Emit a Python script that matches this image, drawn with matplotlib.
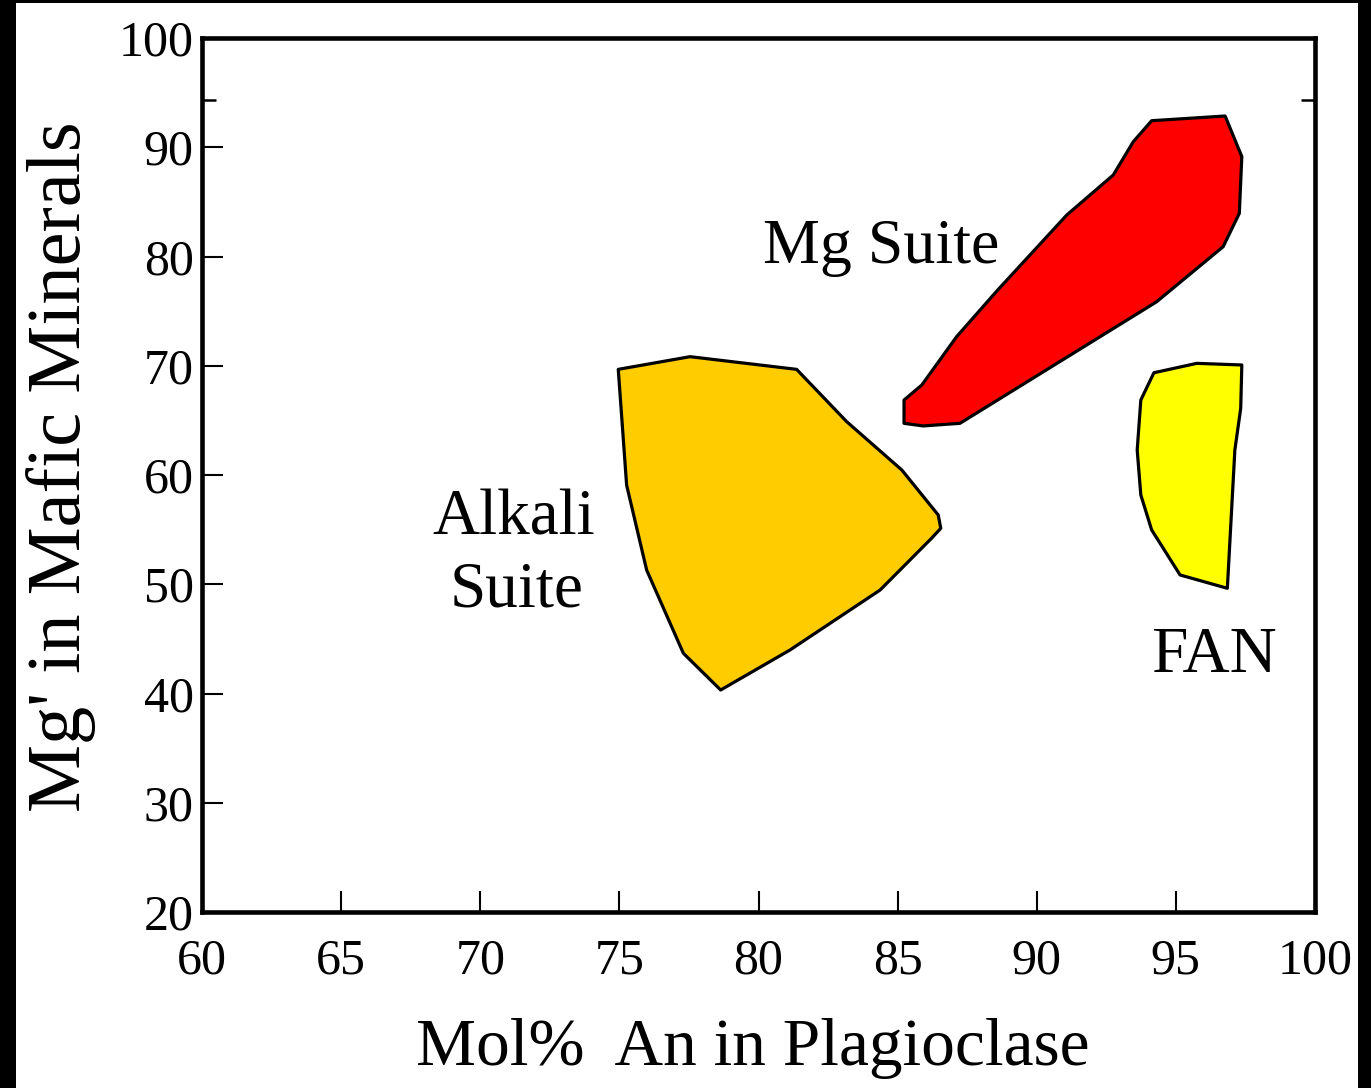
import numpy as np
import matplotlib
matplotlib.use("Agg")
import matplotlib.pyplot as plt
from matplotlib.patches import Polygon, Rectangle
from matplotlib.ticker import FixedLocator

# field outlines: Mol% An in plagioclase (x) vs Mg' in mafic minerals (y)
alkali_an = [74.96, 77.54, 81.37, 83.17, 85.15, 86.46, 86.55, 86.22, 84.37, 81.13, 78.64, 77.30, 75.98, 75.26]
alkali_mg = [69.67, 70.83, 69.67, 64.88, 60.46, 56.34, 55.12, 54.21, 49.47, 43.98, 40.32, 43.68, 51.30, 59.08]

mgsuite_an = [85.23, 85.87, 87.12, 88.55, 91.08, 92.75, 93.47, 94.13, 96.77, 97.37, 97.28, 96.70, 94.31, 87.24, 85.92, 85.23]
mgsuite_mg = [66.86, 68.24, 72.66, 76.80, 83.80, 87.46, 90.51, 92.43, 92.86, 89.14, 83.95, 80.90, 75.86, 64.73, 64.49, 64.73]

fan_an = [94.21, 95.75, 97.37, 97.33, 97.12, 96.85, 95.15, 94.13, 93.74, 93.61, 93.74]
fan_mg = [69.36, 70.22, 70.07, 66.10, 62.29, 49.63, 50.85, 54.97, 58.17, 62.29, 66.86]

x_ticks = [60, 65, 70, 75, 80, 85, 90, 95, 100]
y_ticks = [20, 30, 40, 50, 60, 70, 80, 90, 100]

plt.rcParams['font.family'] = ['Liberation Serif', 'DejaVu Serif']

fig = plt.figure(figsize=(13.71, 10.88), dpi=100)
fig.patch.set_facecolor('white')
# black frame on left, top and right edges
for r in [(0, 0, 16/1371, 1), (0, 1 - 3/1088, 1, 3/1088), (1358/1371, 0, 13/1371, 1)]:
    fig.patches.append(Rectangle(r[:2], r[2], r[3], transform=fig.transFigure,
                                 facecolor='black', edgecolor='none', zorder=-1))

ax = fig.add_axes([202/1371, 1 - 912/1088, 1113/1371, 874/1088])
ax.set_xlim(60, 100)
ax.set_ylim(20, 100)

for xs, ys, col in [(alkali_an, alkali_mg, '#FFCC00'),
                    (mgsuite_an, mgsuite_mg, '#FF0000'),
                    (fan_an, fan_mg, '#FFFF00')]:
    ax.add_patch(Polygon(np.column_stack([xs, ys]), closed=True,
                         facecolor=col, edgecolor='black', linewidth=2.3, joinstyle='round'))

for s in ax.spines.values():
    s.set_linewidth(3.3)

ax.set_xticks(x_ticks)
ax.set_yticks(y_ticks)
ax.set_xticklabels([str(v) for v in x_ticks])
ax.set_yticklabels([str(v) for v in y_ticks])
ax.tick_params(which='major', direction='in', length=15, width=1.5,
               labelsize=36, top=False, right=False)
ax.tick_params(axis='x', pad=19)
ax.tick_params(axis='y', pad=6)
ax.yaxis.set_minor_locator(FixedLocator([94.3]))
ax.xaxis.set_minor_locator(FixedLocator([]))
ax.tick_params(axis='y', which='minor', direction='in', length=10, width=1.8,
               left=True, right=True)

ax.set_xlabel("Mol%  An in Plagioclase", fontsize=48.5, va='baseline')
ax.xaxis.set_label_coords(0.495, -0.175)
ax.set_ylabel("Mg' in Mafic Minerals", fontsize=55, va='center', ha='center')
ax.yaxis.set_label_coords(-0.1267, 0.51)

ax.text(84.40, 79.41, "Mg Suite", fontsize=46, ha='center', va='baseline')
ax.text(71.21, 54.51, "Alkali", fontsize=47, ha='center', va='baseline')
ax.text(71.32, 47.92, "Suite", fontsize=47, ha='center', va='baseline')
ax.text(96.37, 41.97, "FAN", fontsize=47, ha='center', va='baseline')

fig.savefig('out.png', dpi=100)
